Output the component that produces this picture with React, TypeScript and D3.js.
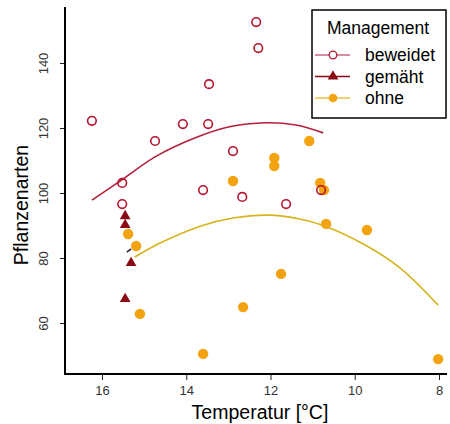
import React, { useEffect, useRef } from 'react';
import * as d3 from 'd3';

// Temperature [°C] / species count
const beweidetTemp = [16.24, 15.52, 15.52, 14.74, 14.08, 13.48, 13.46, 13.6, 12.34, 12.29, 12.89, 12.67, 11.63, 10.8];
const beweidetArten = [122.2, 103.1, 96.6, 116.0, 121.2, 121.2, 133.5, 100.9, 152.6, 144.6, 112.9, 98.8, 96.6, 100.9];

const gemaehtTemp = [15.45, 15.45, 15.31, 15.45];
const gemaehtArten = [92.9, 90.2, 78.5, 67.4];

const ohneTemp = [15.38, 15.19, 15.1, 13.6, 12.65, 11.75, 11.08, 11.91, 11.91, 12.89, 10.82, 10.73, 10.68, 9.71, 8.02];
const ohneArten = [87.4, 83.7, 62.8, 50.5, 64.9, 75.1, 116.0, 110.8, 108.3, 103.7, 103.1, 100.9, 90.5, 88.6, 48.9];

// fitted curves as drawn in the picture
const beweidetFitTemp = [16.24, 15.5, 14.74, 13.8, 13.0, 12.1, 11.4, 10.75];
const beweidetFitArten = [97.8, 104.3, 111.1, 116.9, 120.3, 121.6, 120.9, 118.5];
const gemaehtFitTemp = [15.41, 15.31];
const gemaehtFitArten = [81.8, 82.8];
const ohneFitTemp = [15.22, 14.62, 13.67, 12.89, 12.06, 11.3, 10.7, 9.71, 8.92, 8.02];
const ohneFitArten = [80.3, 84.6, 89.8, 92.3, 93.2, 92.0, 89.8, 83.7, 76.9, 65.5];

const xTicks = [16, 14, 12, 10, 8];
const yTicks = [60, 80, 100, 120, 140];
const groups = ['beweidet', 'gemäht', 'ohne'];

const colBew = '#b5142e';
const colGem = '#8a0a16';
const colOhne = '#f2a30f';
const colOhneLine = '#d6b41e';

const zip = (a: number[], b: number[]) => a.map((v, i) => [v, b[i]] as [number, number]);

const App = () => {
  const ref = useRef<SVGSVGElement>(null);

  useEffect(() => {
    const svg = d3.select(ref.current);
    svg.selectAll('*').remove();
    const font = 'Liberation Sans, Arial, sans-serif';

    const x = d3.scaleLinear().domain([16, 8]).range([102, 439]);
    const y = d3.scaleLinear().domain([60, 140]).range([323, 63]);
    const left = 65;
    const bottom = 374;

    // axes
    const xAxis = svg.append('g')
      .attr('transform', `translate(0,${bottom})`)
      .call(d3.axisBottom(x).tickValues(xTicks).tickSize(6).tickPadding(6));
    xAxis.select('.domain').remove();
    xAxis.selectAll('text').style('font-size', '13px').style('font-family', font).attr('fill', '#333');
    xAxis.selectAll('line').attr('stroke', '#222');

    const yAxis = svg.append('g')
      .attr('transform', `translate(${left},0)`)
      .call(d3.axisLeft(y).tickValues(yTicks).tickSize(5));
    yAxis.select('.domain').remove();
    yAxis.selectAll('line').attr('stroke', '#222');
    yAxis.selectAll('text')
      .attr('transform', 'rotate(-90)')
      .attr('x', 0)
      .attr('y', -17)
      .attr('dy', 0)
      .attr('text-anchor', 'middle')
      .attr('fill', '#333')
      .style('font-size', '13px')
      .style('font-family', font);

    svg.append('path')
      .attr('d', `M${left},7V${bottom}H447`)
      .attr('fill', 'none')
      .attr('stroke', '#000')
      .attr('stroke-width', 2);

    // axis titles
    svg.append('text')
      .attr('x', 260).attr('y', 419)
      .attr('text-anchor', 'middle')
      .style('font-family', font).style('font-size', '19.5px')
      .text('Temperatur [°C]');
    svg.append('text')
      .attr('transform', 'translate(28,205) rotate(-90)')
      .attr('text-anchor', 'middle')
      .style('font-family', font).style('font-size', '19.5px')
      .text('Pflanzenarten');

    // fitted curves
    const line = d3.line<[number, number]>()
      .x(d => x(d[0])).y(d => y(d[1]))
      .curve(d3.curveCatmullRom);
    svg.append('path').attr('d', line(zip(beweidetFitTemp, beweidetFitArten)))
      .attr('fill', 'none').attr('stroke', '#b3203c').attr('stroke-width', 1.6);
    svg.append('path').attr('d', line(zip(gemaehtFitTemp, gemaehtFitArten)))
      .attr('fill', 'none').attr('stroke', '#2a1a40').attr('stroke-width', 1.6);
    svg.append('path').attr('d', line(zip(ohneFitTemp, ohneFitArten)))
      .attr('fill', 'none').attr('stroke', colOhneLine).attr('stroke-width', 1.6);

    // points
    const tri = d3.symbol().type(d3.symbolTriangle).size(50);
    svg.append('g').selectAll('circle')
      .data(zip(ohneTemp, ohneArten))
      .enter().append('circle')
      .attr('cx', d => x(d[0])).attr('cy', d => y(d[1]))
      .attr('r', 5.2).attr('fill', colOhne);
    svg.append('g').selectAll('path')
      .data(zip(gemaehtTemp, gemaehtArten))
      .enter().append('path')
      .attr('d', tri())
      .attr('transform', d => `translate(${x(d[0])},${y(d[1])})`)
      .attr('fill', colGem);
    svg.append('g').selectAll('circle')
      .data(zip(beweidetTemp, beweidetArten))
      .enter().append('circle')
      .attr('cx', d => x(d[0])).attr('cy', d => y(d[1]))
      .attr('r', 4.3).attr('fill', 'none')
      .attr('stroke', colBew).attr('stroke-width', 1.6);

    // legend
    const lg = svg.append('g').attr('transform', 'translate(312,10)');
    lg.append('rect').attr('width', 134).attr('height', 108)
      .attr('fill', '#fff').attr('stroke', '#000').attr('stroke-width', 1.5);
    lg.append('text').attr('x', 66).attr('y', 24)
      .attr('text-anchor', 'middle')
      .style('font-family', font).style('font-size', '17.5px')
      .text('Management');
    const lineCols = ['#c86482', colGem, '#e8c440'];
    groups.forEach((g, i) => {
      const yy = 45 + i * 21.5;
      lg.append('line').attr('x1', 3).attr('x2', 38).attr('y1', yy).attr('y2', yy)
        .attr('stroke', lineCols[i]).attr('stroke-width', 1.4);
      if (i === 0) {
        lg.append('circle').attr('cx', 21).attr('cy', yy).attr('r', 3.8)
          .attr('fill', '#fff').attr('stroke', colBew).attr('stroke-width', 1.3);
      } else if (i === 1) {
        lg.append('path').attr('d', tri()).attr('transform', `translate(21,${yy})`).attr('fill', colGem);
      } else {
        lg.append('circle').attr('cx', 21).attr('cy', yy).attr('r', 4.3).attr('fill', colOhne);
      }
      lg.append('text').attr('x', 53).attr('y', yy + 6)
        .style('font-family', font).style('font-size', '17.5px')
        .text(g);
    });
  }, []);

  return (
    <svg ref={ref} width={450} height={424}
      style={{ position: 'absolute', left: 0, top: 0, background: '#fff' }} />
  );
};

export default App;
